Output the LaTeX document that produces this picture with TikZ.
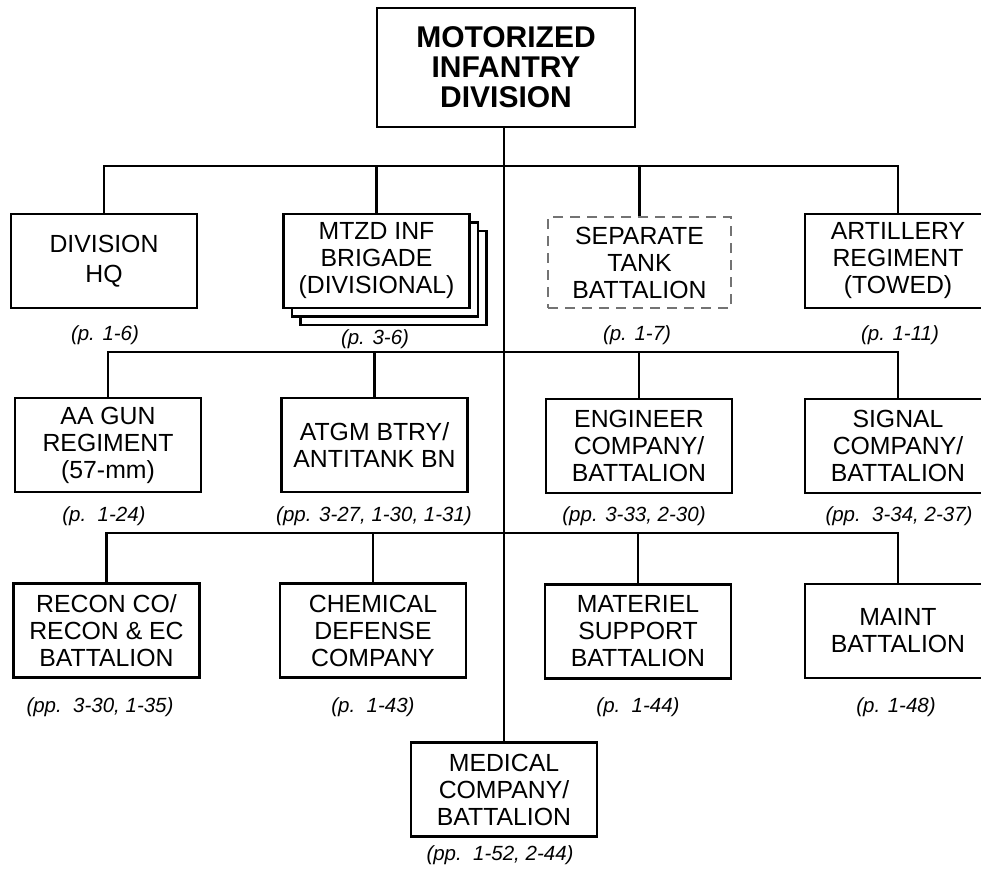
\documentclass[tikz,border=0pt]{standalone}
\usepackage{fontspec}
\setmainfont{Liberation Sans}
\begin{document}
\begin{tikzpicture}[x = 1pt, y = -1pt, line width = 2.2pt,
        unit/.style = {draw, fill = white, minimum width = 186pt, minimum height = 94pt, inner sep = 0pt, align = center, font = \fontsize{24.8}{27}\selectfont},
        pageref/.style = {inner sep = 0pt, font = \fontsize{20.5}{24}\selectfont\itshape}]
        \clip (0, 0) rectangle (981, 869);
        \fill[white] (0, 0) rectangle (981, 869);
        \node[unit, minimum width = 258pt, minimum height = 119pt, font = \fontsize{30}{30}\selectfont\bfseries] (div) at (506, 67.5) {MOTORIZED\\INFANTRY\\DIVISION};
        % first row
        \node[unit, font = \fontsize{24.8}{30}\selectfont] (hq) at (104, 261) {DIVISION\\HQ};
        \node[unit] (brig3) at (393.5, 278) {};
        \node[unit] (brig2) at (385, 269.5) {};
        \node[unit] (brig) at (376.5, 261) {MTZD INF\\BRIGADE\\(DIVISIONAL)};
        \node[unit, draw = black!55, line width = 1.2pt, dash pattern = on 10pt off 7pt, minimum width = 183pt, minimum height = 91pt] (tank) at (639.5, 262.5) {SEPARATE\\TANK\\BATTALION};
        \node[unit] (art) at (898, 261) {ARTILLERY\\REGIMENT\\(TOWED)};
        % second row
        \node[unit] (aa) at (108, 445) {AA GUN\\REGIMENT\\(57-mm)};
        \node[unit] (atgm) at (374.5, 445) {ATGM BTRY/\\ANTITANK BN};
        \node[unit] (eng) at (639, 446) {ENGINEER\\COMPANY/\\BATTALION};
        \node[unit] (sig) at (898, 446) {SIGNAL\\COMPANY/\\BATTALION};
        % third row
        \node[unit] (recon) at (106.5, 630.5) {RECON CO/\\RECON \& EC\\BATTALION};
        \node[unit] (chem) at (373, 630.5) {CHEMICAL\\DEFENSE\\COMPANY};
        \node[unit] (mat) at (638, 631.5) {MATERIEL\\SUPPORT\\BATTALION};
        \node[unit] (maint) at (898, 631) {MAINT\\BATTALION};
        \node[unit] (med) at (504, 789.5) {MEDICAL\\COMPANY/\\BATTALION};
        % page references
        \foreach \x/\y/\t [count = \i] in {105/335/{(p. 1-6)}, 375/339/{(p. 3-6)}, 637/335/{(p. 1-7)}, 900/335/{(p. 1-11)},
                104/516/{(p.\ \ 1-24)}, 374/516/{(pp. 3-27, 1-30, 1-31)}, 634/516/{(pp. 3-33, 2-30)}, 899/516/{(pp.\ \ 3-34, 2-37)},
                100/707/{(pp.\ \ 3-30, 1-35)}, 373/707/{(p.\ \ 1-43)}, 638/707/{(p.\ \ 1-44)}, 896/707/{(p. 1-48)},
                500/855/{(pp.\ \ 1-52, 2-44)}}{
            \node[pageref] (ref\i) at (\x, \y) {\t};
        }
        % connectors
        \coordinate (bus1) at (504, 166);
        \coordinate (bus2) at (504, 352);
        \coordinate (bus3) at (504, 533);
        \draw (div.south -| med.north) -- (med.north);
        \draw (hq.north) |- (bus1) -| (art.north);
        \draw (brig.north) -- (brig.north |- bus1);
        \draw (tank.north) -- (tank.north |- bus1);
        \draw (aa.north) |- (bus2) -| (sig.north);
        \draw (atgm.north) -- (atgm.north |- bus2);
        \draw (eng.north) -- (eng.north |- bus2);
        \draw (recon.north) |- (bus3) -| (maint.north);
        \draw (chem.north) -- (chem.north |- bus3);
        \draw (mat.north) -- (mat.north |- bus3);
    \end{tikzpicture}
\end{document}
